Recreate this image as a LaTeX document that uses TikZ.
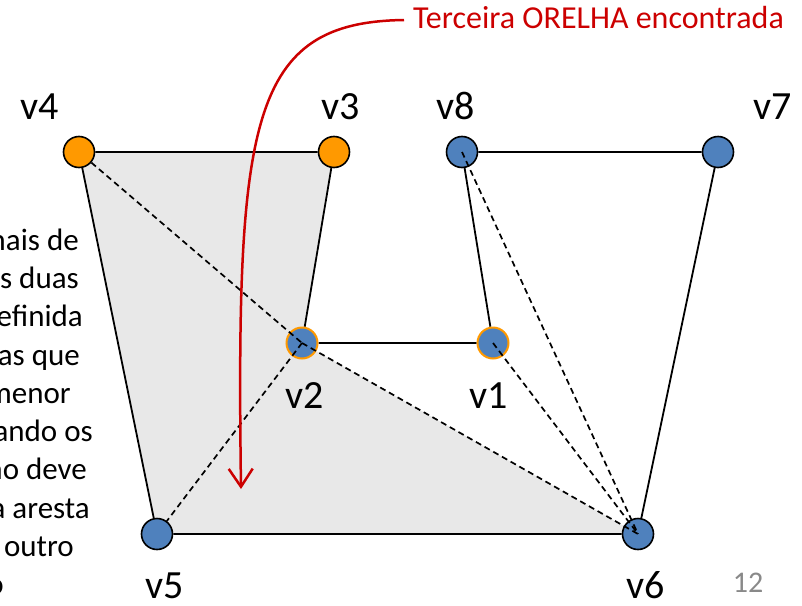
\documentclass[tikz,border=0pt]{standalone}
\usepackage{fontspec}
\setmainfont{Carlito}
\usetikzlibrary{arrows.meta,backgrounds}
\definecolor{vblue}{RGB}{79,129,189}
\definecolor{vorange}{RGB}{255,153,0}
\definecolor{earred}{RGB}{204,0,0}
\definecolor{earfill}{RGB}{232,232,232}
\definecolor{pagegray}{RGB}{137,137,137}
\tikzset{
  vtx/.style={circle, draw=black, line width=1.6pt, minimum size=31pt, inner sep=0pt},
  vout/.style={vtx, fill=vorange}, vin/.style={vtx, fill=vblue},
  vear/.style={vtx, fill=vblue, draw=vorange, line width=2pt},
  vlbl/.style={anchor=base, inner sep=0pt, font=\fontsize{40}{48}\selectfont},
  txt/.style={anchor=base east, inner sep=0pt, font=\fontsize{31}{37}\selectfont},
  side/.style={line width=1.8pt},
  diag/.style={line width=1.7pt, dash pattern=on 6pt off 4pt},
  note/.style={-{Straight Barb[length=18pt,width=24pt,line width=2.5pt]}, line width=2.5pt, earred},
}
\begin{document}
\begin{tikzpicture}[x=1pt, y=-1pt]
    \useasboundingbox (0,0) rectangle (802,605);
    \clip (0,0) rectangle (802,605);
    % vertices
    \node[vout] (v4) at (79,152) {};
    \node[vout] (v3) at (334,152) {};
    \node[vin] (v8) at (462,152) {};
    \node[vin] (v7) at (718,152) {};
    \node[vear] (v2) at (302,343) {};
    \node[vear] (v1) at (493,343) {};
    \node[vin] (v5) at (157,534) {};
    \node[vin] (v6) at (638,534) {};
    \node[vlbl] (l4) at (40,119) {v4};
    \node[vlbl] (l3) at (341,119) {v3};
    \node[vlbl] (l8) at (456,119) {v8};
    \node[vlbl] (l7) at (773,119) {v7};
    \node[vlbl] (l2) at (305,408) {v2};
    \node[vlbl] (l1) at (489,408) {v1};
    \node[vlbl] (l5) at (165,598) {v5};
    \node[vlbl] (l6) at (646,598) {v6};
    % polygon + ear
    \begin{scope}[on background layer]
      \fill[earfill] (v4.center) -- (v3.center) -- (v2.center) -- (v6.center) -- (v5.center) -- cycle;
      \draw[side] (v4) -- (v3) -- (v2) -- (v1) -- (v8) -- (v7) -- (v6) -- (v5) -- (v4);
    \end{scope}
    \draw[diag] (v4) -- (v2.center);
    \draw[diag] (v2.center) -- (v6.center);
    \draw[diag] (v2.center) -- (v5);
    \draw[diag] (v1.center) -- (v6.center);
    \draw[diag] (v8.center) -- (v6.center);
    % cut-off text at the left
    \node[txt] (t1) at (79,250) {mais de};
    \node[txt] (t2) at (79,288) {s duas};
    \node[txt] (t3) at (83,326) {efinida};
    \node[txt] (t4) at (80,365) {as que};
    \node[txt] (t5) at (71,403) {menor};
    \node[txt] (t6) at (93,441) {ando os};
    \node[txt] (t7) at (87,479) {ão deve};
    \node[txt] (t8) at (90,518) {a aresta};
    \node[txt] (t9) at (74,556) {outro};
    \node[txt] (t10) at (4,594) {o};
    \node[anchor=base, inner sep=0pt, font=\fontsize{30}{36}\selectfont, text=pagegray] (page) at (748,592) {12};
    % third ear
    \node[anchor=base west, inner sep=0pt, font=\fontsize{32}{38}\selectfont, text=earred] (ear3) at (413,28) {Terceira ORELHA encontrada};
    \coordinate (eartip) at (241,489);
    \draw[note] ([xshift=-9pt,yshift=-3pt]ear3.west) .. controls (250,22) and (236,120) .. (eartip);
\end{tikzpicture}
\end{document}
